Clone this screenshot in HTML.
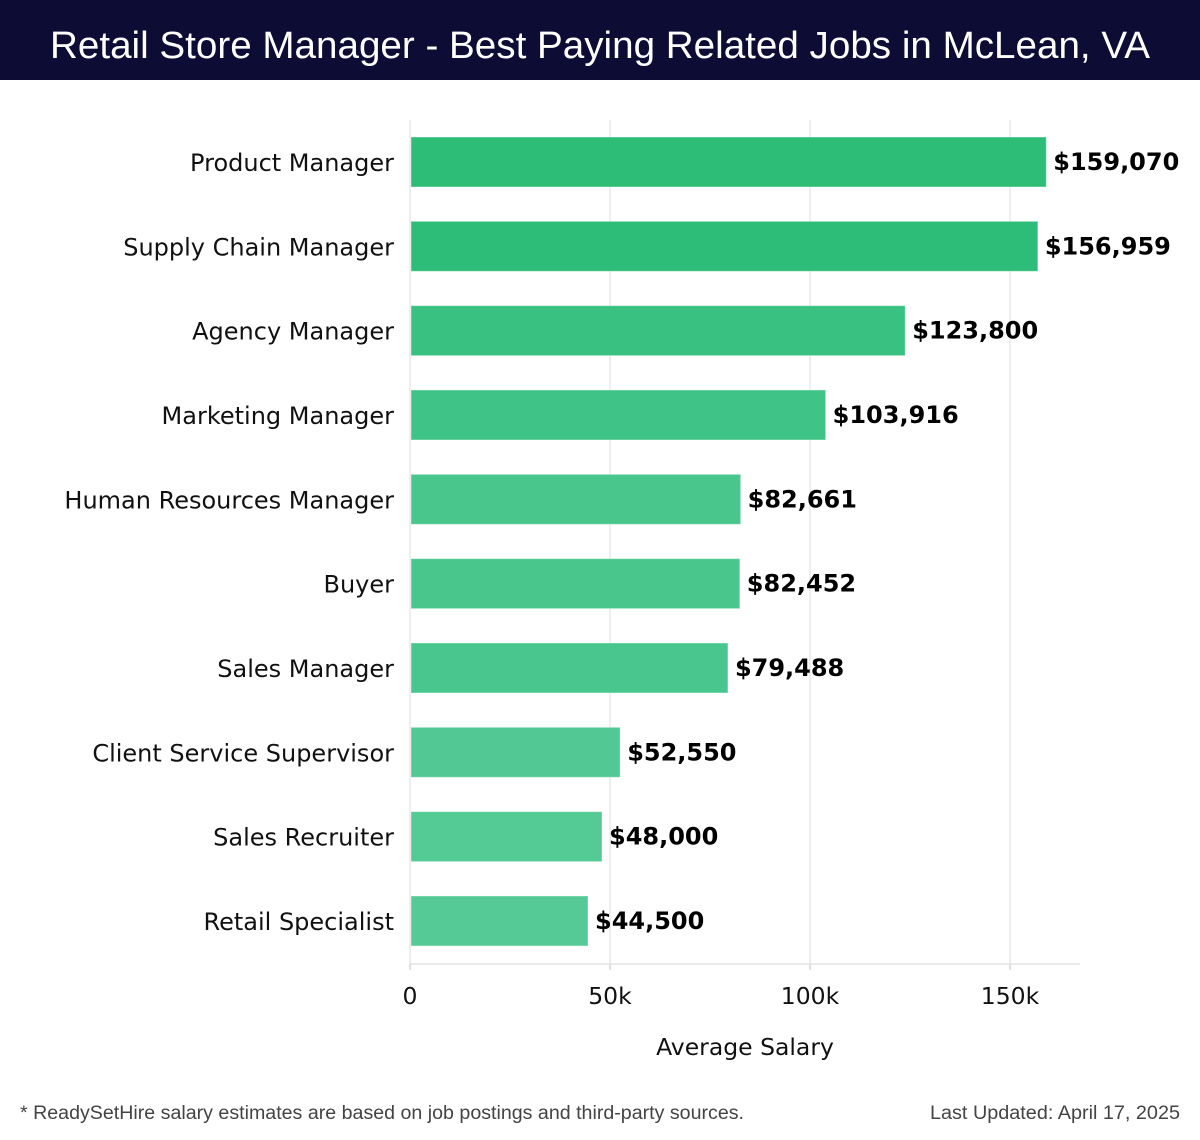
<!DOCTYPE html>
<html><head><meta charset="utf-8"><style>
html,body{margin:0;padding:0;background:#fff;width:1200px;height:1140px;overflow:hidden}
svg{display:block}
</style></head><body>
<svg id="chart" width="1200" height="1140" xmlns="http://www.w3.org/2000/svg">
<rect x="0" y="0" width="1200" height="80" fill="#0d0c35"/>
<text x="600" y="58" text-anchor="middle" fill="#fff" font-family="Liberation Sans, DejaVu Sans, sans-serif" font-size="38" textLength="1100" lengthAdjust="spacingAndGlyphs">Retail Store Manager - Best Paying Related Jobs in McLean, VA</text>
<g id="grid"></g>
<g id="bars"></g>
<g id="axis"></g>
<text x="745" y="1055" text-anchor="middle" font-family="DejaVu Sans, sans-serif" font-size="23.5" fill="#111">Average Salary</text>
<text x="20" y="1119" font-family="Liberation Sans, sans-serif" font-size="19" fill="#444" textLength="724" lengthAdjust="spacingAndGlyphs">* ReadySetHire salary estimates are based on job postings and third-party sources.</text>
<text x="1180" y="1119" text-anchor="end" font-family="Liberation Sans, sans-serif" font-size="19" fill="#444" textLength="250" lengthAdjust="spacingAndGlyphs">Last Updated: April 17, 2025</text>
</svg>
<script>
const categories=["Product Manager","Supply Chain Manager","Agency Manager","Marketing Manager","Human Resources Manager","Buyer","Sales Manager","Client Service Supervisor","Sales Recruiter","Retail Specialist"];
const values=[159070,156959,123800,103916,82661,82452,79488,52550,48000,44500];
const valueLabels=["$159,070","$156,959","$123,800","$103,916","$82,661","$82,452","$79,488","$52,550","$48,000","$44,500"];
const tickValues=[0,50000,100000,150000];
const tickLabels=["0","50k","100k","150k"];

const NS="http://www.w3.org/2000/svg";
const x0=410, pxPerUnit=4/1000, plotTop=120, plotBottom=964, plotRight=1080;
const xScale=v=>x0+v*pxPerUnit;
const band=84.33, firstCenter=162, barH=50;
const yScale=i=>firstCenter+i*band;
const maxV=Math.max(...values), minV=Math.min(...values);
function color(v){const t=(maxV-v)/(maxV-minV);const a=[45,189,119],b=[85,202,150];return `rgb(${a.map((c,k)=>Math.round(c+(b[k]-c)*t)).join(',')})`;}
function mk(tag,attrs,parent,txt){const e=document.createElementNS(NS,tag);for(const k in attrs)e.setAttribute(k,attrs[k]);if(txt!==undefined)e.textContent=txt;parent.appendChild(e);return e;}
const grid=document.getElementById('grid'),bars=document.getElementById('bars'),axis=document.getElementById('axis');
tickValues.forEach((t,i)=>{
  const gl=mk('line',{x1:xScale(t),x2:xScale(t),y1:plotTop,y2:plotBottom,stroke:'#e2e2e2','stroke-width':1.2},grid);
  
  
  const tk=mk('line',{x1:xScale(t),x2:xScale(t),y1:plotBottom,y2:plotBottom+6,stroke:'#ccc','stroke-width':1.2},axis);
  
  
  const tl=mk('text',{x:xScale(t),y:1004,'text-anchor':'middle','font-family':'DejaVu Sans, sans-serif','font-size':23.5,fill:'#111'},axis,tickLabels[i]);
  
  
});
const al=mk('line',{x1:x0,x2:plotRight,y1:plotBottom,y2:plotBottom,stroke:'#ddd','stroke-width':1.2},axis);


categories.forEach((c,i)=>{
  const cy=yScale(i);
  const r=mk('rect',{x:x0+1,y:cy-barH/2,width:xScale(values[i])-x0-1,height:barH,fill:color(values[i]),stroke:'rgba(255,255,255,0.4)','stroke-width':1},bars);
  
  
  const l=mk('text',{x:394,y:cy+9,'text-anchor':'end','font-family':'DejaVu Sans, sans-serif','font-size':24,fill:'#111'},bars,c);
  
  
  const v=mk('text',{x:xScale(values[i])+7,y:cy+8,'font-family':'DejaVu Sans, sans-serif','font-size':24,'font-weight':'bold',fill:'#000'},bars,valueLabels[i]);
  
  
});
</script>
</body></html>
